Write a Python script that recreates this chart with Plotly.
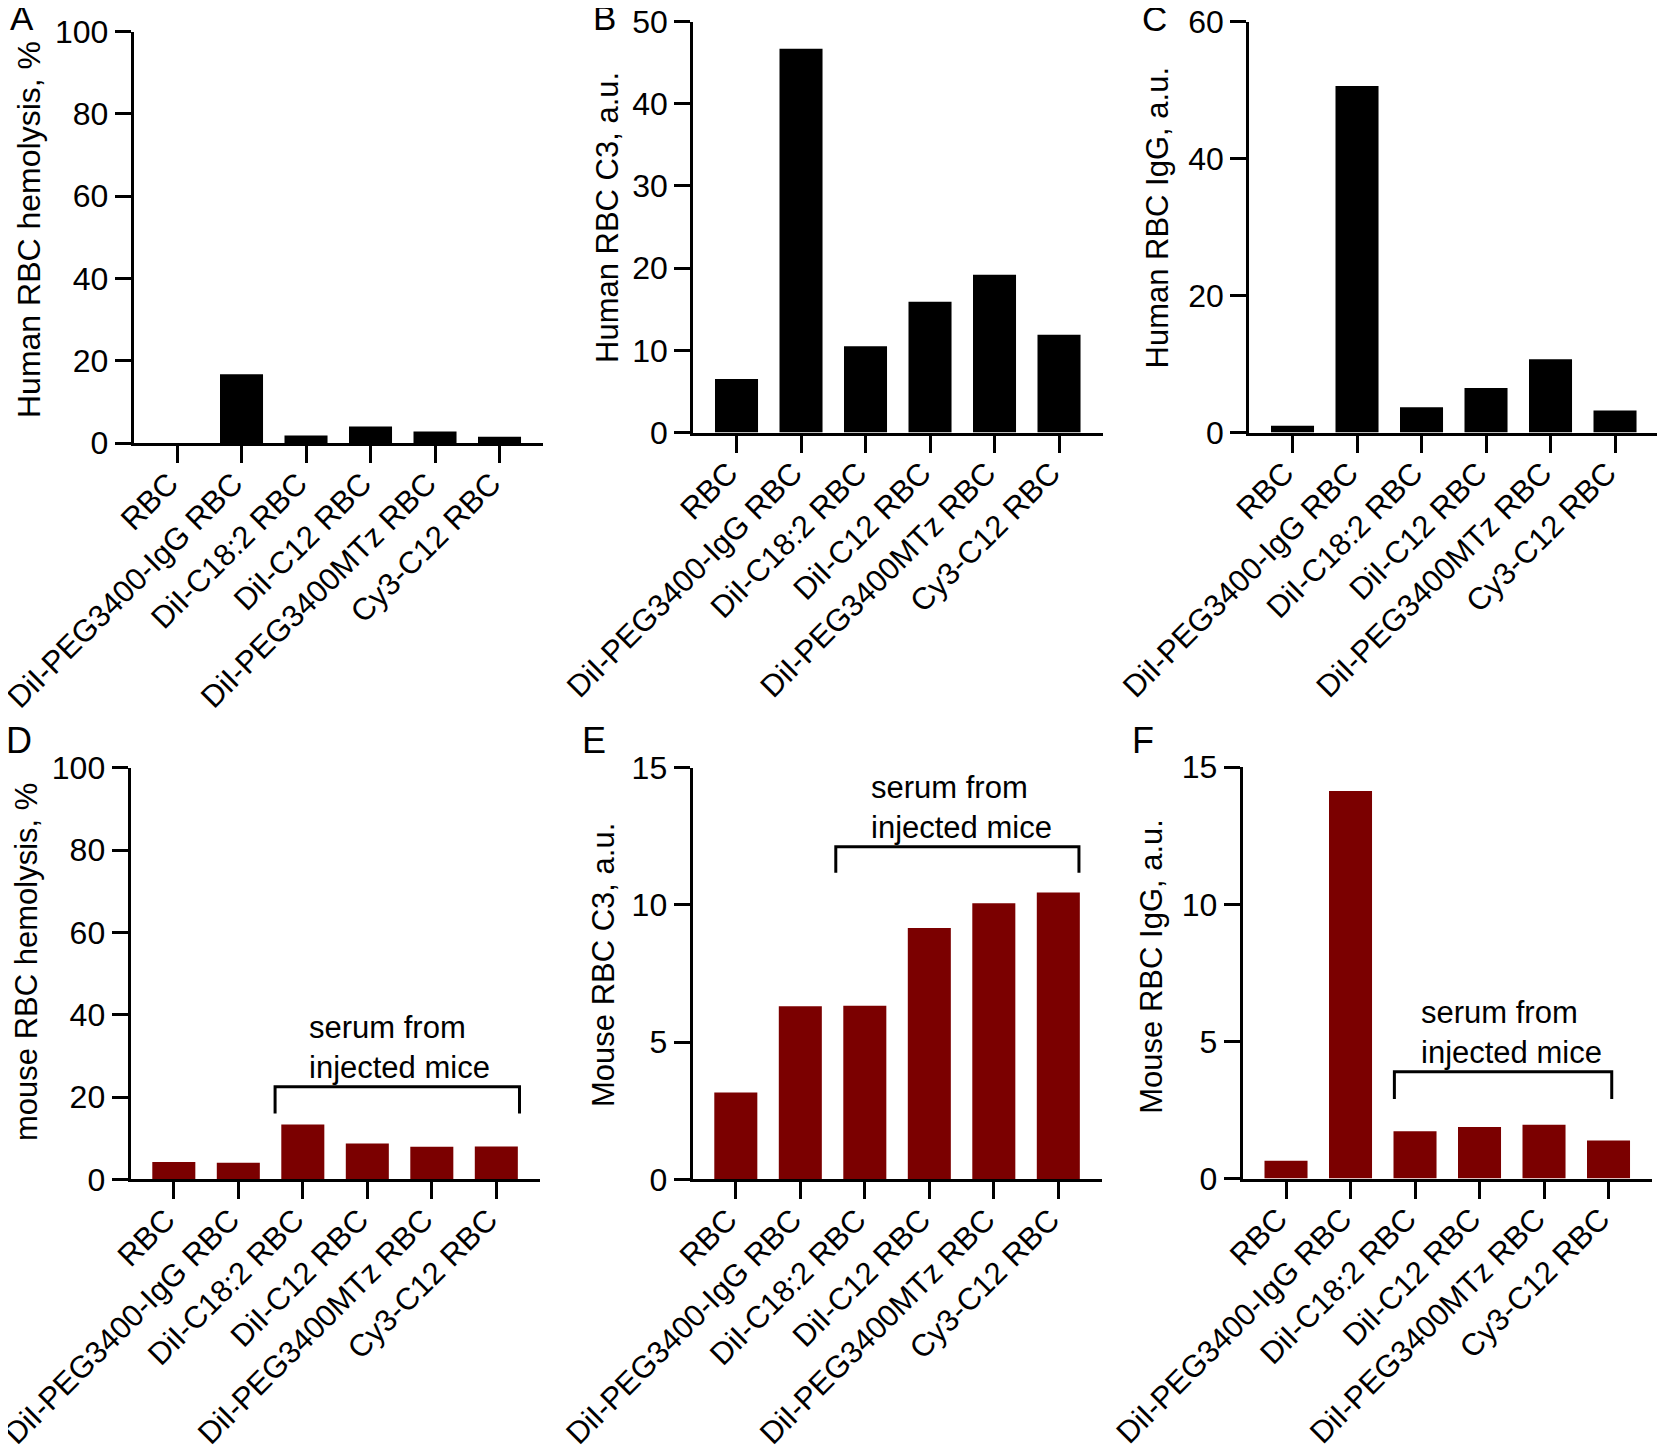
import plotly.graph_objects as go

# The page body adds an 8 px margin, so the figure is drawn 8 px smaller and
# every pixel position below is shifted by OFF.
OFF = 8
W, H = 1665 - OFF, 1454 - OFF

categories = ["RBC", "DiI-PEG3400-IgG RBC", "DiI-C18:2 RBC", "DiI-C12 RBC",
              "DiI-PEG3400MTz RBC", "Cy3-C12 RBC"]

human_hemolysis = [0.0, 16.7, 1.8, 4.0, 2.8, 1.5]
human_c3 = [6.5, 46.7, 10.5, 15.9, 19.2, 11.9]
human_igg = [1.0, 50.6, 3.7, 6.5, 10.7, 3.2]
mouse_hemolysis = [4.2, 4.0, 13.3, 8.7, 7.9, 8.0]
mouse_c3 = [3.16, 6.31, 6.33, 9.16, 10.06, 10.45]
mouse_igg = [0.65, 14.13, 1.72, 1.88, 1.96, 1.39]

panel_letters = ["A", "B", "C", "D", "E", "F"]
y_titles = ["Human RBC hemolysis, %", "Human RBC C3, a.u.", "Human RBC IgG, a.u.",
            "mouse RBC hemolysis, %", "Mouse RBC C3, a.u.", "Mouse RBC IgG, a.u."]
y_max = [100, 50, 60, 100, 15, 15]
y_dtick = [20, 10, 20, 20, 5, 5]

# brackets: (x_left, x_right, y_top, y_end) for panels D, E, F
bracket_D = [1.57, 5.36, 22.5, 16.0]
bracket_E = [1.55, 5.32, 12.12, 11.17]
bracket_F = [1.68, 5.05, 3.89, 2.9]
bracket_text = "serum from<br>injected mice"

BLACK = "#000000"
RED = "#7b0000"
FONT = "Arial, Liberation Sans, sans-serif"

series = [human_hemolysis, human_c3, human_igg, mouse_hemolysis, mouse_c3, mouse_igg]
colors = [BLACK, BLACK, BLACK, RED, RED, RED]

# layout geometry in screen pixels: (x0, y_top, y_bottom)
XR = [-0.67, 5.68]
SP = 64.5
PW = (XR[1] - XR[0]) * SP
geom = [
    (133.8, 31.7, 443.0),
    (693.3, 21.5, 432.5),
    (1249.3, 21.5, 432.5),
    (130.6, 767.8, 1179.3),
    (692.6, 767.8, 1179.3),
    (1242.8, 767.2, 1178.5),
]
title_pos = [(29, 230), (607, 218), (1157, 217.5), (26, 962), (603, 965), (1152, 966.7)]
title_size = [32, 31, 31, 31, 31, 31]
letter_pos = [(22, 18), (604, 17.5), (1154, 19), (19, 740), (594, 740.5), (1143, 740.5)]
letter_size = [35, 35, 35, 36, 36, 36]


def px(x):
    return (x - OFF) / W


def py(y):
    return 1 - (y - OFF) / H


fig = go.Figure()
layout = dict(
    width=W, height=H,
    margin=dict(l=0, r=0, t=0, b=0, autoexpand=False),
    paper_bgcolor="white", plot_bgcolor="white",
    showlegend=False,
    bargap=0.333,
    font=dict(family=FONT, color="black"),
)
annotations = []

for i in range(6):
    n = "" if i == 0 else str(i + 1)
    xa, ya = "x" + n, "y" + n
    x0, yt, yb = geom[i]
    fig.add_trace(go.Bar(
        x=list(range(len(categories))), y=series[i],
        marker=dict(color=colors[i], line=dict(width=0)),
        xaxis=xa, yaxis=ya, width=0.667,
    ))
    layout["xaxis" + n] = dict(
        domain=[px(x0), px(x0 + PW)], anchor=ya, range=XR, automargin=False,
        tickvals=list(range(len(categories))), ticktext=categories,
        tickangle=-45, ticks="outside", ticklen=17, tickwidth=3, tickcolor="black",
        ticklabelstandoff=-10, ticklabelshift=-8, ticklabeloverflow="allow",
        showline=True, linewidth=3, linecolor="black", showgrid=False, zeroline=False,
        tickfont=dict(family=FONT, size=31, color="black"),
    )
    layout["yaxis" + n] = dict(
        domain=[py(yb), py(yt)], anchor=xa, range=[0, y_max[i]],
        automargin=False, ticklabeloverflow="allow",
        dtick=y_dtick[i], tick0=0, ticks="outside", ticklen=16, tickwidth=3,
        tickcolor="black", showline=True, linewidth=3, linecolor="black",
        showgrid=False, zeroline=False,
        tickfont=dict(family=FONT, size=32, color="black"),
    )
    tx, ty = title_pos[i]
    annotations.append(dict(
        text=y_titles[i], x=px(tx), y=py(ty), xref="paper", yref="paper",
        textangle=-90, showarrow=False, xanchor="center", yanchor="middle",
        font=dict(family=FONT, size=title_size[i], color="black"),
    ))
    lx, ly = letter_pos[i]
    annotations.append(dict(
        text=panel_letters[i], x=px(lx), y=py(ly), xref="paper", yref="paper",
        showarrow=False, xanchor="center", yanchor="middle",
        font=dict(family=FONT, size=letter_size[i], color="black"),
    ))

for idx, br in [(3, bracket_D), (4, bracket_E), (5, bracket_F)]:
    n = str(idx + 1)
    xl, xr, ytop, yend = br
    fig.add_trace(go.Scatter(
        x=[xl, xl, xr, xr], y=[yend, ytop, ytop, yend], mode="lines",
        line=dict(color="black", width=3), xaxis="x" + n, yaxis="y" + n,
        hoverinfo="skip",
    ))
    annotations.append(dict(
        text=bracket_text, x=2.06, y=ytop, xref="x" + n, yref="y" + n,
        showarrow=False, xanchor="left", yanchor="bottom", align="left",
        font=dict(family=FONT, size=31, color="black"),
    ))

layout["annotations"] = annotations
fig.update_layout(**layout)
fig.write_html("out.html")
